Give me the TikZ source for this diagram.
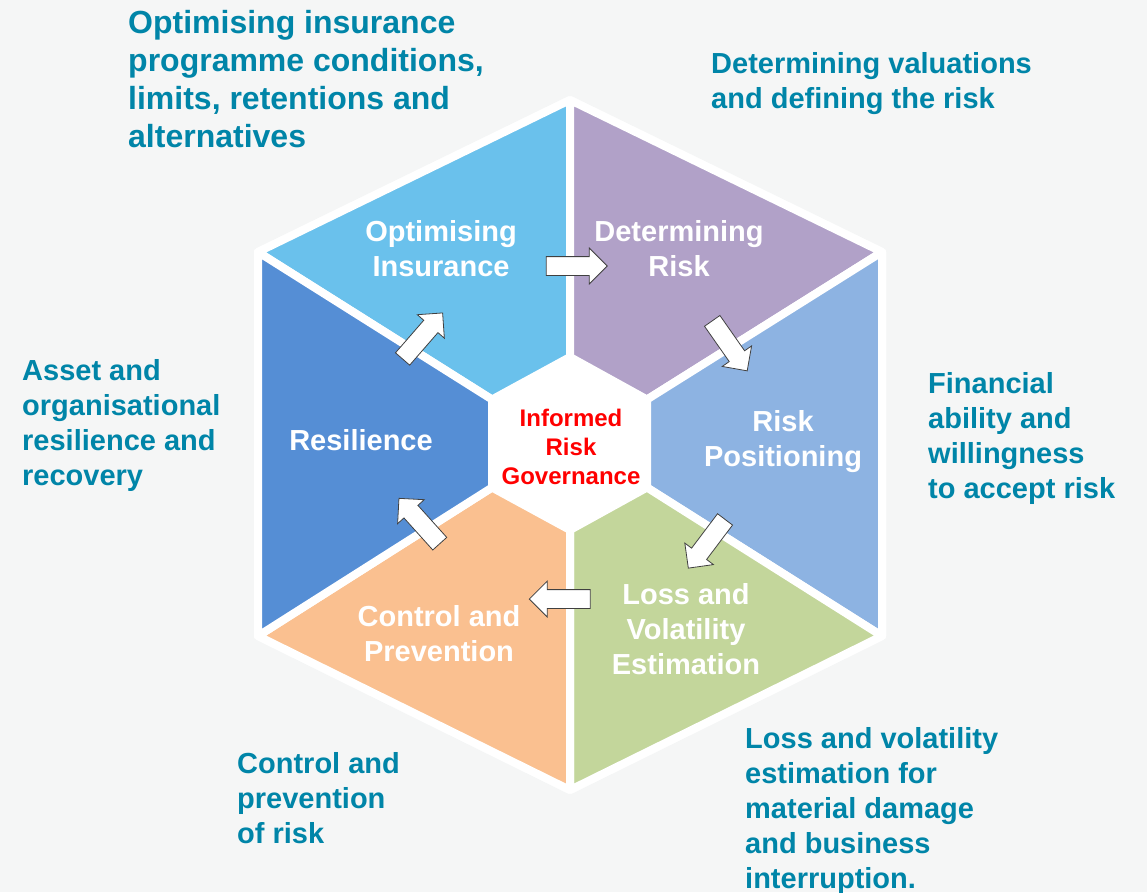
\documentclass[tikz,border=0pt]{standalone}
\usepackage{fontspec}
\setmainfont{Liberation Sans}
\usetikzlibrary{shapes.arrows}

\definecolor{optblue}{HTML}{6AC1EC}
\definecolor{detpurple}{HTML}{B1A1C8}
\definecolor{posblue}{HTML}{8DB3E2}
\definecolor{lossgreen}{HTML}{C3D69B}
\definecolor{ctrlorange}{HTML}{FAC090}
\definecolor{resblue}{HTML}{558ED5}
\definecolor{noteteal}{HTML}{0085A8}
\definecolor{bgpaper}{HTML}{F5F6F6}

\begin{document}
\begin{tikzpicture}[x=1pt,y=-1pt,
    seg/.style={draw=white, line width=8pt, line join=round},
    rim/.style={draw=white, fill=white, line width=8pt, line join=round},
    seglabel/.style={anchor=north, align=center, text=white, inner sep=0pt,
                     font=\fontsize{29}{35}\selectfont\bfseries},
    note/.style={anchor=north west, align=left, text=noteteal, inner sep=0pt,
                 font=\fontsize{29}{35}\selectfont\bfseries},
    flow/.style={single arrow, draw=black!75, fill=white, line width=0.8pt,
                 inner sep=0pt, text height=9pt, text depth=9pt,
                 minimum height=61pt, single arrow head extend=8.5pt}]
		\useasboundingbox (0,0) rectangle (1147,892);
		\fill[bgpaper] (0,0) rectangle (1147,892);

		% outer and inner corners of the hexagon
		\coordinate (T)  at (570,100);
		\coordinate (UR) at (882,252);
		\coordinate (LR) at (882,636);
		\coordinate (B)  at (570,790);
		\coordinate (LL) at (258,636);
		\coordinate (UL) at (258,252);
		\coordinate (t)  at (570,357);
		\coordinate (ur) at (647,399.5);
		\coordinate (lr) at (647,487.5);
		\coordinate (b)  at (570,530);
		\coordinate (ll) at (492,487.5);
		\coordinate (ul) at (492,399.5);

		\path[rim] (T) -- (UR) -- (LR) -- (B) -- (LL) -- (UL) -- cycle;
		\filldraw[seg, fill=optblue]    (UL) -- (T) -- (t) -- (ul) -- cycle;
		\filldraw[seg, fill=detpurple]  (T) -- (UR) -- (ur) -- (t) -- cycle;
		\filldraw[seg, fill=posblue]    (UR) -- (LR) -- (lr) -- (ur) -- cycle;
		\filldraw[seg, fill=lossgreen]  (LR) -- (B) -- (b) -- (lr) -- cycle;
		\filldraw[seg, fill=ctrlorange] (B) -- (LL) -- (ll) -- (b) -- cycle;
		\filldraw[seg, fill=resblue]    (LL) -- (UL) -- (ul) -- (ll) -- cycle;

		\node[seglabel] (opt)  at (441,220.5) {Optimising\\Insurance};
		\node[seglabel] (det)  at (679,220.5) {Determining\\Risk};
		\node[seglabel] (pos)  at (783,410.5) {Risk\\Positioning};
		\node[seglabel] (loss) at (686,583.5) {Loss and\\Volatility\\Estimation};
		\node[seglabel] (ctrl) at (439,605.5) {Control and\\Prevention};
		\node[seglabel] (res)  at (361,429.5) {Resilience};
		\node[seglabel, text=red, font=\fontsize{24}{29}\selectfont\bfseries] (irg) at (571,408.5) {Informed\\Risk\\Governance};

		\node[flow] (a1) at (572,266) {};
		\node[flow, rotate=-55] (a2) at (727,342) {};
		\node[flow, rotate=-127] (a3) at (709.5,540) {};
		\node[flow, rotate=180] (a4) at (564.5,599) {};
		\node[flow, rotate=132] (a5) at (422.5,524.5) {};
		\node[flow, rotate=49] (a6) at (419.5,339.5) {};

		\node[note, font=\fontsize{32}{38}\selectfont\bfseries] (optnote) at (128,10.5) {Optimising insurance\\programme conditions,\\limits, retentions and\\alternatives};
		\node[note] (detnote)  at (711,52.5)  {Determining valuations\\and defining the risk};
		\node[note] (posnote)  at (928,372.5) {Financial\\ability and\\willingness\\to accept risk};
		\node[note] (resnote)  at (22,359.5)  {Asset and\\organisational\\resilience and\\recovery};
		\node[note] (ctrlnote) at (237,752.5) {Control and\\prevention\\of risk};
		\node[note] (lossnote) at (745,727.5) {Loss and volatility\\estimation for\\material damage\\and business\\interruption.};
	\end{tikzpicture}
\end{document}
